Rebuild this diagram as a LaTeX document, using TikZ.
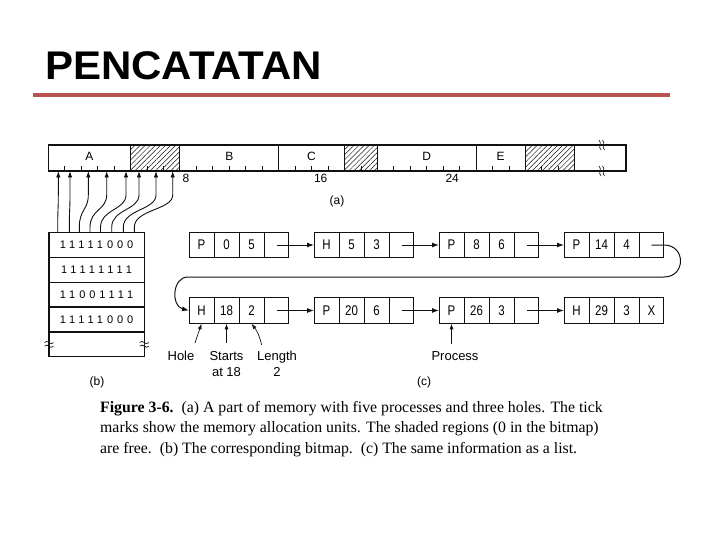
\documentclass[tikz,border=0pt]{standalone}
\usepackage{fontspec}
\setmainfont{Liberation Sans}
\newfontfamily\titlefont[FakeStretch=1.05]{Liberation Sans}
\newfontfamily\capfont{Liberation Serif}
\newfontfamily\listfont[FakeStretch=0.82]{Liberation Sans}
\newfontfamily\bitfont[LetterSpace=36]{Liberation Sans}
\usetikzlibrary{arrows.meta, positioning, shapes.multipart, patterns.meta}
\definecolor{ink}{HTML}{111111}
\definecolor{rulered}{HTML}{B85450}
\tikzset{
  record/.style={
    rectangle split,
    rectangle split parts=4,
    rectangle split horizontal,
    draw=ink,
    line width=1pt,
    text width=24pt,
    inner xsep=0pt,
    inner ysep=0pt,
    minimum height=25.5pt,
    align=center,
    font=\listfont\fontsize{14}{14}\selectfont
  },
  bitrow/.style={draw=ink, line width=1.2pt, minimum width=95.3pt, minimum height=24.9pt,
    inner sep=0pt, outer sep=0pt, font=\bitfont\fontsize{11}{11}\selectfont},
  lbl/.style={font=\fontsize{12}{12}\selectfont, inner sep=0pt},
  note/.style={font=\fontsize{13}{16}\selectfont, align=center, inner sep=0pt, anchor=north},
  hatch/.style={pattern={Lines[angle=45,distance=3.6pt,line width=0.5pt]}, pattern color=ink},
  arrow/.style={-{Latex[length=7pt,width=5pt]}, line width=1pt, draw=ink},
  bitarrow/.style={-{Latex[length=6.5pt,width=4.5pt]}, line width=0.9pt, draw=ink},
  ptr/.style={-{Latex[length=5.5pt,width=4pt]}, line width=0.7pt, draw=ink}
}

\begin{document}
\begin{tikzpicture}[x=1pt, y=-1pt]
\useasboundingbox (0,0) rectangle (720,540);

% heading
\node[anchor=base west, inner sep=0pt, font=\titlefont\bfseries\fontsize{40}{40}\selectfont] (title) at (45,80) {PENCATATAN};
\draw[rulered, line width=3.5pt] (33,95) -- (670,95);

% (a) memory
\node[draw=ink, line width=1.2pt, minimum width=577.7pt, minimum height=26pt,
  inner sep=0pt, outer sep=0pt] (mem) at (337.15,158) {};
\foreach \a/\b in {82.25/131.6, 296.1/329, 477.05/526.4}
  \fill[hatch] ([xshift=\a pt]mem.south west) rectangle ([xshift=\b pt]mem.north west);
\foreach \a in {82.25,131.6,230.3,296.1,329,427.7,477.05,526.4}
  \draw[ink, line width=1pt] ([xshift=\a pt]mem.south west) -- ([xshift=\a pt]mem.north west);
\foreach \k in {1,2,3,4,6,7,9,10,11,12,13,15,16,17,19,21,22,23,24,25,27,28,30,31}
  \draw[ink, line width=0.7pt] ([xshift=\k*16.45pt]mem.south west) -- ++(0,-5);
\draw[ink, line width=1.2pt] (mem.north west) rectangle (mem.south east);
% break marks
\foreach \y in {145,171}
  \foreach \x in {600,603.5}
    \draw[ink, line width=0.6pt] (\x-1,\y-5) .. controls (\x+2.5,\y-2) and (\x-2.5,\y+2) .. (\x+1,\y+5);

\node[lbl] (lblA) at (89.4,156) {A};
\node[lbl] (lblB) at (229.3,156) {B};
\node[lbl] (lblC) at (311.5,156) {C};
\node[lbl] (lblD) at (426.7,156) {D};
\node[lbl] (lblE) at (500.7,156) {E};
\node[lbl, anchor=north west] (num8) at ([xshift=134pt,yshift=-2.5pt]mem.south west) {8};
\node[lbl, anchor=north west] (num16) at ([xshift=265.5pt,yshift=-2.5pt]mem.south west) {16};
\node[lbl, anchor=north west] (num24) at ([xshift=397pt,yshift=-2.5pt]mem.south west) {24};
\node[lbl] (capa) at (337,201) {(a)};

% (b) bitmap
\node[bitrow] (row1) at (96.65,244.75) {11111000};
\node[bitrow, below=0pt of row1] (row2) {11111111};
\node[bitrow, below=0pt of row2] (row3) {11001111};
\node[bitrow, below=0pt of row3] (row4) {11111000};
\node[bitrow, draw=none, below=0pt of row4] (row5) {};
\draw[ink, line width=1.2pt] (row5.north west) -- (row5.south west) -- (row5.south east) -- (row5.north east);
\foreach \n in {west,east}
  \foreach \d in {-1.8,1.8}
    \draw[ink, line width=0.7pt] ([xshift=-4.5pt,yshift=\d pt]row5.\n)
      .. controls +(3,-4) and +(-3,4) .. ([xshift=4.5pt,yshift=\d pt]row5.\n);
\node[lbl] (capb) at (97,382) {(b)};

\foreach \s/\t in {8.7/10, 20.3/21.7, 30.3/40, 41/58.4, 51.5/77.7, 62.7/90.7, 74.3/107.7, 85.3/124.4}
  \draw[bitarrow] ([xshift=\s pt]row1.north west) -- ++(0,-5)
    .. controls ++(0,-18) and ([xshift=\t pt,yshift=-39pt]mem.south west) ..
    ([xshift=\t pt,yshift=-24pt]mem.south west) -- ([xshift=\t pt]mem.south west);

% (c) list
\node[record] (rec1) at (239,245) {P \nodepart{two} 0 \nodepart{three} 5 \nodepart{four} {}};
\node[record, right=25pt of rec1] (rec2) {H \nodepart{two} 5 \nodepart{three} 3 \nodepart{four} {}};
\node[record, right=25pt of rec2] (rec3) {P \nodepart{two} 8 \nodepart{three} 6 \nodepart{four} {}};
\node[record, right=25pt of rec3] (rec4) {P \nodepart{two} 14 \nodepart{three} 4 \nodepart{four} {}};
\node[record, below=39pt of rec1] (rec5) {H \nodepart{two} 18 \nodepart{three} 2 \nodepart{four} {}};
\node[record, right=25pt of rec5] (rec6) {P \nodepart{two} 20 \nodepart{three} 6 \nodepart{four} {}};
\node[record, right=25pt of rec6] (rec7) {P \nodepart{two} 26 \nodepart{three} 3 \nodepart{four} {}};
\node[record, right=25pt of rec7] (rec8) {H \nodepart{two} 29 \nodepart{three} 3 \nodepart{four} X};

\draw[arrow] ([xshift=-12.5pt]rec1.east) -- (rec2.west);
\draw[arrow] ([xshift=-12.5pt]rec2.east) -- (rec3.west);
\draw[arrow] ([xshift=-12.5pt]rec3.east) -- (rec4.west);
\draw[arrow] ([xshift=-12.5pt]rec4.east) -- ++(12.5,0) .. controls +(22,0) and +(22,0) .. ++(0,32)
  -- ++(-476,0) .. controls +(-16,0) and +(-18,-4.5) .. (rec5.west);
\draw[arrow] ([xshift=-12.5pt]rec5.east) -- (rec6.west);
\draw[arrow] ([xshift=-12.5pt]rec6.east) -- (rec7.west);
\draw[arrow] ([xshift=-12.5pt]rec7.east) -- (rec8.west);

\node[note] (hole) at (181,351) {Hole};
\node[note] (starts) at (226.5,351) {Starts\\at 18};
\node[note] (length) at (277,351) {Length\\2};
\node[note] (process) at (455,351) {Process};
\node[lbl] (capc) at (424,382) {(c)};

\draw[ptr] ([xshift=14pt,yshift=8pt]hole.north) -- ([xshift=12.5pt]rec5.south west);
\draw[ptr] ([yshift=8pt]starts.north) -- ([xshift=37.5pt]rec5.south west);
\draw[ptr] ([xshift=-15.3pt,yshift=6pt]length.north) to[bend right=12] ([xshift=62.5pt]rec5.south west);
\draw[ptr] ([xshift=-3.5pt,yshift=7pt]process.north) -- ([xshift=12.5pt]rec7.south west);

% caption
\node[anchor=north west, align=left, inner sep=0pt, font=\capfont\fontsize{15.8}{20.5}\selectfont] (caption) at (100,401)
  {\textbf{Figure 3-6.}\ \ (a) A part of memory with five processes and three holes. The tick\\
   marks show the memory allocation units. The shaded regions (0 in the bitmap)\\
   are free.\ \ (b) The corresponding bitmap.\ \ (c) The same information as a list.};

\end{tikzpicture}
\end{document}
